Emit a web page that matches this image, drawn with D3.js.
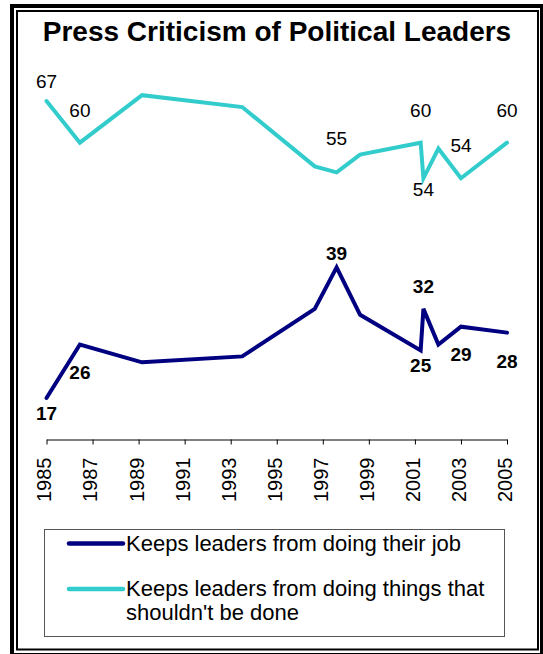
<!DOCTYPE html>
<html><head><meta charset="utf-8">
<script src="https://cdn.jsdelivr.net/npm/d3@7/dist/d3.min.js"></script>
<style>
body{margin:0;background:#fff}
svg{display:block}
text{font-family:"Liberation Sans",Arial,Helvetica,sans-serif}
</style>
</head><body>
<svg id="chart" width="543" height="654"></svg>
<script>
// ---- data ----
const chartTitle = "Press Criticism of Political Leaders";
const years = [1985, 1986.45, 1989.15, 1993.5, 1996.65, 1997.6, 1998.62, 2001.25, 2001.37, 2002.02, 2003, 2005];
const keepsFromJob = [17, 26, 23, 24, 32, 39, 31, 25, 32, 26, 29, 28];
const keepsFromWrong = [67, 60, 68, 66, 56, 55, 58, 60, 54, 59, 54, 60];
const tickYears = [1985, 1987, 1989, 1991, 1993, 1995, 1997, 1999, 2001, 2003, 2005];
const seriesNames = ["Keeps leaders from doing their job", "Keeps leaders from doing things that shouldn't be done"];
const jobLabelIdx = [0, 1, 5, 7, 8, 10, 11];
const wrongLabelIdx = [0, 1, 5, 7, 8, 10, 11];

// ---- layout ----
const svg = d3.select("#chart");
const x = d3.scaleLinear().domain([1985, 2005]).range([46.5, 507]);
const y = d3.scaleLinear().domain([10, 70]).range([439.5, 83.3]);
const navy = "#000080", cyan = "#33CCCC";

// frame
svg.append("rect").attr("x", 12).attr("y", 6).attr("width", 530).attr("height", 649)
  .attr("fill", "none").attr("stroke", "#000").attr("stroke-width", 4);
svg.append("rect").attr("x", 17).attr("y", 11).attr("width", 521).attr("height", 638.5)
  .attr("fill", "none").attr("stroke", "#000").attr("stroke-width", 2);

// title
svg.append("text").attr("x", 277).attr("y", 41).attr("text-anchor", "middle")
  .attr("font-size", 28).attr("font-weight", "bold").attr("fill", "#000").text(chartTitle);

// axis
const axis = d3.axisBottom(x).tickValues(tickYears).tickSize(5).tickSizeOuter(0).tickFormat(d3.format("d"));
const gx = svg.append("g").attr("transform", `translate(0,${y(10)})`).call(axis);
gx.select(".domain").attr("stroke", "#000").attr("stroke-width", 1);
gx.selectAll(".tick line").attr("stroke", "#000");
gx.selectAll(".tick text")
  .attr("font-family", '"Liberation Sans",Arial,sans-serif')
  .attr("font-size", 20).attr("fill", "#000")
  .attr("text-anchor", "end")
  .attr("transform", "translate(0,18) rotate(-90)")
  .attr("x", 0).attr("y", 0).attr("dy", "0.22em");

// lines
const line = d3.line().x(d => x(d[0])).y(d => y(d[1]));
const jobPts = years.map((yr, i) => [yr, keepsFromJob[i]]);
const wrongPts = years.map((yr, i) => [yr, keepsFromWrong[i]]);
svg.append("path").attr("d", line(wrongPts)).attr("fill", "none").attr("stroke", cyan)
  .attr("stroke-width", 4).attr("stroke-linecap", "round").attr("stroke-linejoin", "miter");
svg.append("path").attr("d", line(jobPts)).attr("fill", "none").attr("stroke", navy)
  .attr("stroke-width", 4).attr("stroke-linecap", "round").attr("stroke-linejoin", "miter");

// data labels (vertical offsets of label baselines from points)
const wrongDy = {0: -13, 1: -26, 5: -27, 7: -26, 8: 18, 10: -26.5, 11: -26};
const jobDy = {0: 22, 1: 34, 5: -7, 7: 21.5, 8: -15.5, 10: 34, 11: 35};
svg.append("g").selectAll("text").data(wrongLabelIdx).join("text")
  .attr("x", i => x(years[i])).attr("y", i => y(keepsFromWrong[i]) + wrongDy[i])
  .attr("text-anchor", "middle").attr("font-size", 19).attr("fill", "#000")
  .text(i => keepsFromWrong[i]);
svg.append("g").selectAll("text").data(jobLabelIdx).join("text")
  .attr("x", i => x(years[i])).attr("y", i => y(keepsFromJob[i]) + jobDy[i])
  .attr("text-anchor", "middle").attr("font-size", 19).attr("font-weight", "bold").attr("fill", "#000")
  .text(i => keepsFromJob[i]);

// legend
const lg = svg.append("g");
lg.append("rect").attr("x", 44.5).attr("y", 529.5).attr("width", 460).attr("height", 107)
  .attr("fill", "#fff").attr("stroke", "#555").attr("stroke-width", 1);
const legendItems = [
  {color: navy, ly: 543.5, lines: [seriesNames[0]]},
  {color: cyan, ly: 589, lines: ["Keeps leaders from doing things that", "shouldn't be done"]}
];
legendItems.forEach(it => {
  lg.append("line").attr("x1", 69).attr("x2", 123).attr("y1", it.ly).attr("y2", it.ly)
    .attr("stroke", it.color).attr("stroke-width", 4.5).attr("stroke-linecap", "round");
  const t = lg.append("text").attr("x", 126).attr("y", it.ly + 7).attr("font-size", 22).attr("fill", "#000");
  it.lines.forEach((s, k) => t.append("tspan").attr("x", 126).attr("dy", k === 0 ? 0 : 24).text(s));
});
</script>
</body></html>
